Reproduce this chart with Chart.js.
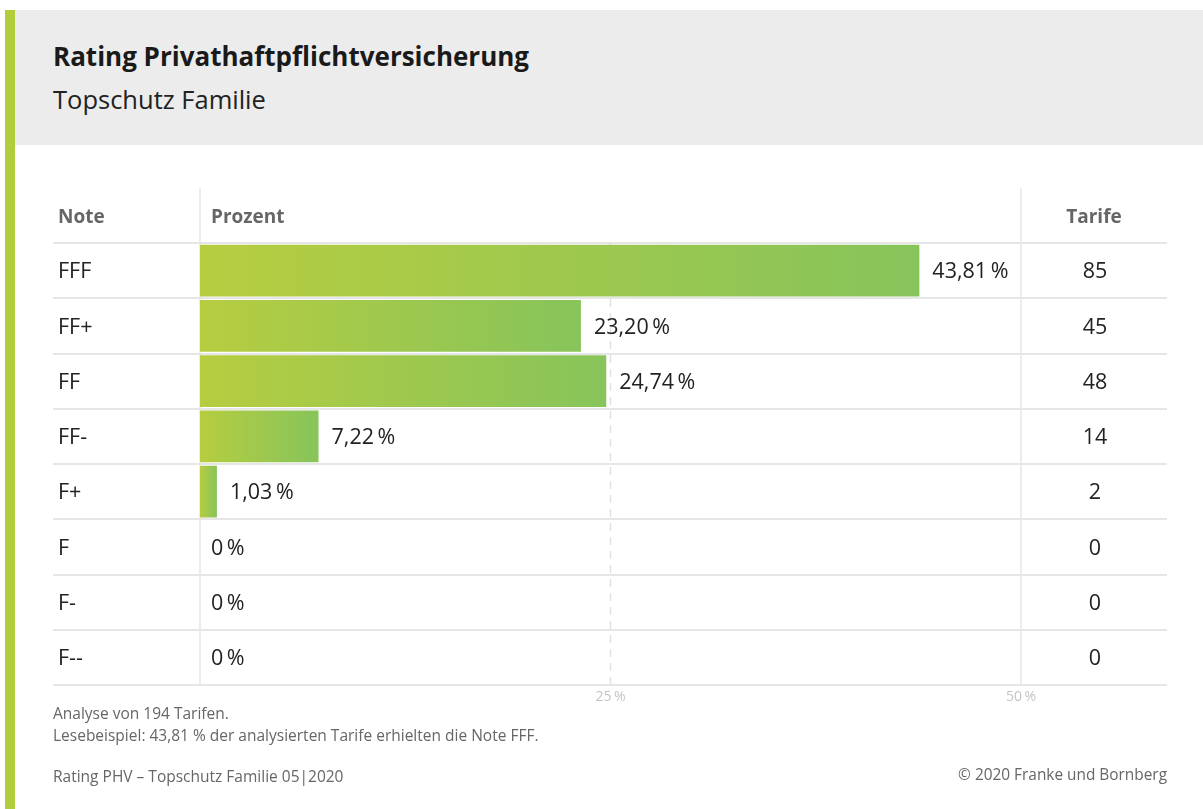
<!DOCTYPE html>
<html lang="de">
<head>
<meta charset="utf-8">
<title>Rating Privathaftpflichtversicherung</title>
<script src="https://cdn.jsdelivr.net/npm/chart.js@4.4.1/dist/chart.umd.min.js"></script>
<style>
  html, body { margin: 0; padding: 0; background: #fff; }
  body { width: 1203px; height: 809px; position: relative; overflow: hidden; font-family: "Open Sans", sans-serif; }
  .stripe { position: absolute; left: 5px; top: 10px; width: 10px; height: 799px; background: #b1cd3c; }
  .header { position: absolute; left: 15px; top: 10px; width: 1188px; height: 135px; background: #ececec; }
  .title { position: absolute; left: 53px; top: 38px; font-size: 26px; font-weight: 700; color: #1a1a1a; white-space: nowrap; }
  .subtitle { position: absolute; left: 53px; top: 82px; font-size: 25.5px; color: #222; white-space: nowrap; }
  .chart-box { position: absolute; left: 0; top: 0; width: 1203px; height: 809px; }
  .note { position: absolute; left: 53px; font-size: 15.5px; color: #666; white-space: nowrap; }
  .copy { position: absolute; right: 36px; top: 764px; font-size: 15.4px; color: #666; white-space: nowrap; }
</style>
</head>
<body>
<div class="stripe"></div>
<div class="header"></div>
<div class="title">Rating Privathaftpflichtversicherung</div>
<div class="subtitle">Topschutz Familie</div>
<div class="chart-box"><canvas id="rating-chart"></canvas></div>
<div class="note" style="top:702px">Analyse von 194 Tarifen.</div>
<div class="note" style="top:724px">Lesebeispiel: 43,81 % der analysierten Tarife erhielten die Note FFF.</div>
<div class="note" style="top:765px">Rating PHV – Topschutz Familie 05|2020</div>
<div class="copy">© 2020 Franke und Bornberg</div>

<script>
// data
const grades = ["FFF", "FF+", "FF", "FF-", "F+", "F", "F-", "F--"];
const percents = [43.81, 23.20, 24.74, 7.22, 1.03, 0, 0, 0];
const tariffs = [85, 45, 48, 14, 2, 0, 0, 0];
const tickValues = [25, 50];
const columnTitles = ["Note", "Prozent", "Tarife"];

const FONT = '"Open Sans", sans-serif';
const lineColor = "#e6e6e6";

const formatPercent = (v) => (v === 0 ? "0" : v.toFixed(2).replace(".", ",")) + "\u2009%";

// gradient for each bar, from its left edge to its own end
const barGradient = (ctx) => {
  const chart = ctx.chart;
  const area = chart.chartArea;
  if (!area || ctx.type !== "data") return "#9fc84a";
  const x0 = chart.scales.x.getPixelForValue(0);
  const x1 = chart.scales.x.getPixelForValue(ctx.raw);
  if (x1 - x0 < 1) return "#9fc84a";
  const g = chart.ctx.createLinearGradient(x0, 0, x1, 0);
  g.addColorStop(0, "#b6cd40");
  g.addColorStop(1, "#87c45b");
  return g;
};

const tablePlugin = {
  id: "ratingTable",
  beforeDatasetsDraw(chart) {
    const { ctx, chartArea: a, scales } = chart;
    const rowH = (a.bottom - a.top) / grades.length;
    const left = 53, right = 1167, headTop = 188;
    const xEnd = scales.x.getPixelForValue(50);
    ctx.save();
    // row lines
    ctx.strokeStyle = lineColor;
    ctx.lineWidth = 2;
    for (let i = 0; i <= grades.length; i++) {
      const y = Math.round(a.top + i * rowH);
      ctx.beginPath();
      ctx.moveTo(left, y);
      ctx.lineTo(right, y);
      ctx.stroke();
    }
    // column lines
    ctx.lineWidth = 1.5;
    [a.left, xEnd].forEach((x) => {
      ctx.beginPath();
      ctx.moveTo(x, headTop);
      ctx.lineTo(x, a.bottom);
      ctx.stroke();
    });
    // dashed 25 % line
    ctx.setLineDash([8, 6]);
    ctx.strokeStyle = "#e2e2e2";
    ctx.beginPath();
    ctx.moveTo(scales.x.getPixelForValue(25), a.top);
    ctx.lineTo(scales.x.getPixelForValue(25), a.bottom);
    ctx.stroke();
    ctx.setLineDash([]);
    // column titles
    ctx.fillStyle = "#666";
    ctx.font = "700 19px " + FONT;
    ctx.textBaseline = "middle";
    const hy = 218;
    ctx.textAlign = "left";
    ctx.fillText(columnTitles[0], 58, hy);
    ctx.fillText(columnTitles[1], a.left + 11, hy);
    ctx.textAlign = "center";
    ctx.fillText(columnTitles[2], 1094, hy);
    ctx.restore();
  },
  afterDatasetsDraw(chart) {
    const { ctx, chartArea: a, scales } = chart;
    ctx.save();
    ctx.textBaseline = "middle";
    grades.forEach((g, i) => {
      const y = scales.y.getPixelForValue(i) + 1.5;
      ctx.fillStyle = "#222";
      ctx.font = "21.5px " + FONT;
      ctx.textAlign = "left";
      ctx.fillText(g, 58, y);
      const xv = scales.x.getPixelForValue(percents[i]);
      ctx.fillText(formatPercent(percents[i]), xv + (percents[i] === 0 ? 11 : 13), y);
      ctx.textAlign = "center";
      ctx.fillText(String(tariffs[i]), 1095, y);
    });
    // axis tick labels
    ctx.fillStyle = "#c4c4c4";
    ctx.font = "14px " + FONT;
    ctx.textAlign = "center";
    tickValues.forEach((v) => {
      ctx.fillText(v + "\u2009%", scales.x.getPixelForValue(v), a.bottom + 12);
    });
    ctx.restore();
  }
};

new Chart(document.getElementById("rating-chart"), {
  type: "bar",
  data: {
    labels: grades,
    datasets: [{
      data: percents,
      backgroundColor: barGradient,
      borderWidth: 0,
      barPercentage: 0.94,
      categoryPercentage: 1
    }]
  },
  options: {
    indexAxis: "y",
    responsive: true,
    maintainAspectRatio: false,
    animation: false,
    layout: { padding: { left: 200, right: 182, top: 243, bottom: 124 } },
    plugins: {
      legend: { display: false },
      tooltip: { enabled: false }
    },
    scales: {
      x: { display: false, min: 0, max: 50 },
      y: { display: false }
    }
  },
  plugins: [tablePlugin]
});
</script>
</body>
</html>
